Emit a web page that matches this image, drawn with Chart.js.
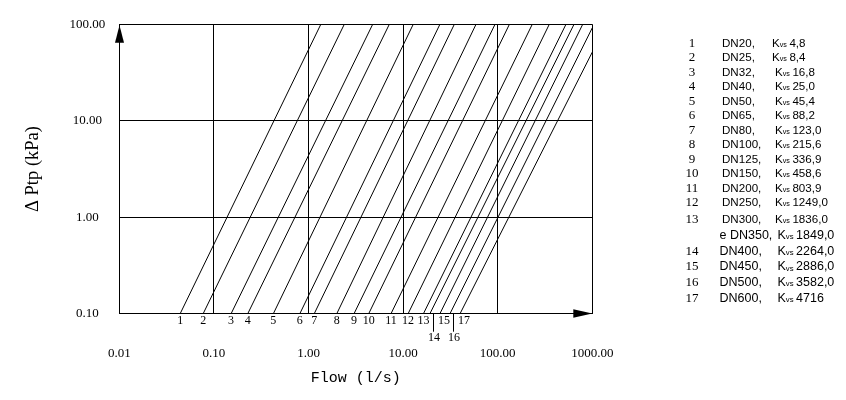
<!DOCTYPE html>
<html>
<head>
<meta charset="utf-8">
<script src="https://cdn.jsdelivr.net/npm/chart.js@4.4.0/dist/chart.umd.min.js"></script>
<style>
  body { margin: 0; background: #fff; }
  #chart { display: block; }
</style>
</head>
<body>
<canvas id="chart" width="846" height="400"></canvas>
<script>
// curves: flow in l/s, pressure drop in kPa
const lineNames = ['1', '2', '3', '4', '5', '6', '7', '8', '9', '10', '11', '12', '13', '14', '15', '16', '17'];
const startDrop = 0.1;
const startFlow = [0.044, 0.077, 0.152, 0.228, 0.425, 0.81, 1.15, 1.99, 3.03, 4.33, 7.45, 11.3, 16.4, 19.2, 24.5, 31.3, 40.0];
const endFlow = [1.35, 2.39, 4.77, 7.15, 12.8, 24.5, 34.8, 59, 93.7, 133, 232, 351, 527, 641, 792, 1000, 1000];
const endDrop = [100, 100, 100, 100, 100, 100, 100, 100, 100, 100, 100, 100, 100, 100, 100, 92, 51.5];

const flowTicks = [0.01, 0.1, 1, 10, 100, 1000];
const dropTicks = [0.1, 1, 10, 100];

// table on the right
const legendNo = ['1', '2', '3', '4', '5', '6', '7', '8', '9', '10', '11', '12', '13', '', '14', '15', '16', '17'];
const dnNames = ['DN20,', 'DN25,', 'DN32,', 'DN40,', 'DN50,', 'DN65,', 'DN80,', 'DN100,', 'DN125,', 'DN150,',
    'DN200,', 'DN250,', 'DN300,', 'e DN350,', 'DN400,', 'DN450,', 'DN500,', 'DN600,'];
const kvsText = ['4,8', '8,4', '16,8', '25,0', '45,4', '88,2', '123,0', '215,6', '336,9', '458,6',
    '803,9', '1249,0', '1836,0', '1849,0', '2264,0', '2886,0', '3582,0', '4716'];

const datasets = lineNames.map((name, i) => ({
    label: name,
    data: [{ x: startFlow[i], y: startDrop }, { x: endFlow[i], y: endDrop[i] }],
    showLine: true,
    borderColor: '#000',
    borderWidth: 1,
    pointRadius: 0
}));

const extras = {
    id: 'extras',
    afterDraw(chart) {
        const ctx = chart.ctx;
        const area = chart.chartArea;
        const xs = chart.scales.x;
        ctx.save();
        ctx.fillStyle = '#000';
        ctx.strokeStyle = '#000';
        ctx.lineWidth = 1;

        // arrow heads on the axes
        const ax = Math.round(area.left - 0.5) + 0.5;
        ctx.beginPath();
        ctx.moveTo(ax, area.top + 1);
        ctx.lineTo(ax - 4.5, area.top + 18.5);
        ctx.lineTo(ax + 4.5, area.top + 18.5);
        ctx.closePath();
        ctx.fill();
        const ay = Math.round(area.bottom - 0.5) + 0.5;
        ctx.beginPath();
        ctx.moveTo(area.right, ay);
        ctx.lineTo(area.right - 19, ay - 4.2);
        ctx.lineTo(area.right - 19, ay + 4.2);
        ctx.closePath();
        ctx.fill();

        // curve numbers under the x axis
        ctx.font = '12px "Liberation Serif"';
        ctx.textAlign = 'center';
        ctx.textBaseline = 'middle';
        lineNames.forEach((name, i) => {
            let px = xs.getPixelForValue(startFlow[i]);
            if (i >= 13) px += 4;
            if (name === '14' || name === '16') {
                const lx = Math.round(px - 1) + 0.5;
                ctx.beginPath();
                ctx.moveTo(lx, area.bottom);
                ctx.lineTo(lx, area.bottom + 18);
                ctx.stroke();
                ctx.fillText(name, px, area.bottom + 24);
            } else {
                ctx.fillText(name, px, area.bottom + 7.5);
            }
        });

        // DN / Kvs table
        legendNo.forEach((no, i) => {
            const big = i >= 13;
            const y = i < 12 ? 43.5 + i * 14.5 : 219.5 + (i - 12) * 15.8;
            const dnX = big ? 719.5 : 722;
            const kX = big ? 777.5 : (i < 2 ? 772 : 775);
            const fs = big ? 12.5 : 11.6;
            ctx.textAlign = 'center';
            ctx.font = '13px "Liberation Serif"';
            if (no) ctx.fillText(no, 692, y);
            ctx.textAlign = 'left';
            ctx.font = fs + 'px "Liberation Sans"';
            ctx.fillText(dnNames[i], dnX, y);
            ctx.fillText('K', kX, y);
            let w = ctx.measureText('K').width;
            ctx.font = (fs * 0.62) + 'px "Liberation Sans"';
            ctx.fillText('vs', kX + w, y + 1.5);
            w += ctx.measureText('vs').width;
            ctx.font = fs + 'px "Liberation Sans"';
            ctx.fillText(kvsText[i], kX + w + 2.5, y);
        });
        ctx.restore();
    }
};

new Chart(document.getElementById('chart'), {
    type: 'scatter',
    data: { datasets: datasets },
    options: {
        responsive: false,
        animation: false,
        layout: { padding: { top: 24.3, right: 253.7, bottom: 0, left: 0 } },
        plugins: {
            legend: { display: false },
            tooltip: { enabled: false }
        },
        scales: {
            x: {
                type: 'logarithmic',
                min: 0.01,
                max: 1000,
                afterBuildTicks: (s) => { s.ticks = flowTicks.map(v => ({ value: v })); },
                afterFit: (s) => { s.height = 86.3; },
                ticks: {
                    callback: (v) => Number(v).toFixed(2),
                    color: '#000',
                    font: { family: 'Liberation Serif', size: 13 },
                    padding: 32.5,
                    maxRotation: 0,
                    autoSkip: false
                },
                grid: { color: '#000', lineWidth: 1, drawTicks: false },
                border: { display: true, color: '#000', width: 1 },
                title: {
                    display: true,
                    text: 'Flow (l/s)',
                    color: '#000',
                    font: { family: 'Liberation Mono', size: 15 },
                    padding: { top: 0, bottom: 13 }
                }
            },
            y: {
                type: 'logarithmic',
                min: 0.1,
                max: 100,
                afterBuildTicks: (s) => { s.ticks = dropTicks.map(v => ({ value: v })); },
                afterFit: (s) => { s.width = 119.3; },
                ticks: {
                    callback: (v) => Number(v).toFixed(2),
                    color: '#000',
                    font: { family: 'Liberation Serif', size: 13 },
                    padding: 14,
                    crossAlign: 'center',
                    autoSkip: false
                },
                grid: { color: '#000', lineWidth: 1, drawTicks: false },
                border: { display: true, color: '#000', width: 1 },
                title: {
                    display: true,
                    text: 'Δ Ptp (kPa)',
                    color: '#000',
                    font: { family: 'Liberation Serif', size: 18.5 },
                    padding: { top: 22, bottom: 0 }
                }
            }
        }
    },
    plugins: [extras]
});
</script>
</body>
</html>
